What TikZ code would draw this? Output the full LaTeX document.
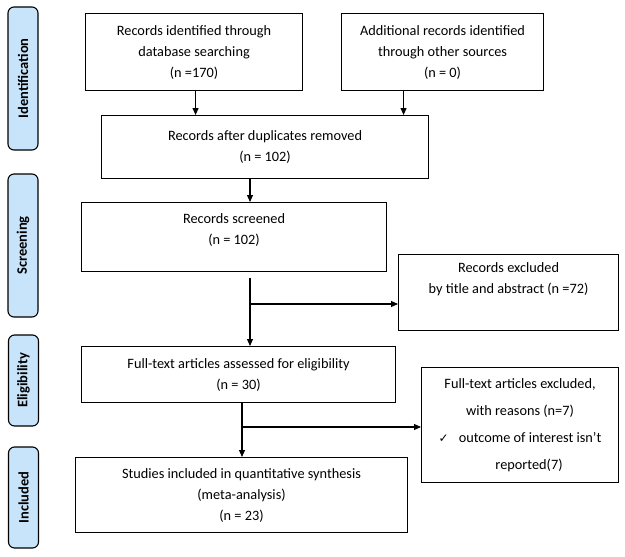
\documentclass[tikz,border=0pt]{standalone}
\usepackage{fontspec}
\setmainfont{Carlito}
\newfontfamily\checkfont{DejaVu Sans}
\usetikzlibrary{arrows.meta}

\definecolor{phaseblue}{RGB}{200,228,250}
\newcommand*\phasewidth{30}
\tikzset{stagebox/.style 2 args={
    draw,
    line width=1.1pt,
    rectangle,
    anchor=north west,
    inner sep=0pt,
    minimum width=#1pt,
    minimum height=#2pt,
    align=center,
    font=\fontsize{14.3}{21}\selectfont
}}
\tikzset{phase/.style={
    draw,
    line width=1.1pt,
    fill=phaseblue,
    rounded corners=6pt,
    rotate=90,
    inner sep=0pt,
    minimum width=#1pt,
    minimum height=\phasewidth pt,
    font=\fontsize{14.5}{16}\selectfont\bfseries
}}
\tikzset{flow/.style={line width=1.1pt,-{Triangle[length=7pt,width=6pt]}}}

\begin{document}
\begin{tikzpicture}[x=1pt,y=-1pt]
    \useasboundingbox (0,0) rectangle (625,557);

    % The phases down the left side.
    \node[phase=143] (ident) at (23,78.5) {Identification};
    \node[phase=143] (screen) at (23,245.5) {Screening};
    \node[phase=91] (elig) at (23.5,380.5) {Eligibility};
    \node[phase=101] (incl) at (23.5,497.5) {Included};

    % The boxes, at their top left corners.
    %\node[stagebox={WIDTH}{HEIGHT}] at (LEFT,TOP) {TEXT};
    \node[stagebox={217}{77}] (db) at (85,13) {Records identified through\\database searching\\(n =170)};
    \node[stagebox={202}{77}] (other) at (341,13) {Additional records identified\\through other sources\\(n = 0)};
    \node[stagebox={327}{63}] (dup) at (101,115) {Records after duplicates removed\\(n = 102)};
    \node[stagebox={305}{69}] (scr) at (81,202) {Records screened\\(n = 102)\\[-4pt]};
    \node[stagebox={220}{76}] (excl) at (398,254) {Records excluded\\by title and abstract (n =72)\\[9pt]};
    \node[stagebox={314}{56}] (full) at (81,346) {Full-text articles assessed for eligibility\\(n = 30)};
    \node[stagebox={197}{115},font=\fontsize{14.3}{27}\selectfont] (fullexcl) at (421,367)
        {Full-text articles excluded,\\with reasons (n=7)\\{\checkfont\fontsize{12}{12}\selectfont ✓}\hspace{10pt}outcome of interest isn’t\\\hspace{18pt}reported(7)};
    \node[stagebox={332}{75}] (incl6) at (75,457) {Studies included in quantitative synthesis\\(meta-analysis)\\(n = 23)};

    % The spine of the flow and its two branch points.
    \coordinate (spine) at (250,0);
    \coordinate (spinetwo) at (242,0);
    \coordinate (cutone) at (250,304);
    \coordinate (cuttwo) at (242,427);

    % Draw the arrows.
    \draw[flow] ([xshift=1.5pt]db.south) -- ([xshift=1.5pt]db.south |- dup.north);
    \draw[flow] ([xshift=-39pt]other.south) -- ([xshift=-39pt]other.south |- dup.north);
    \draw[flow] (dup.south -| spine) -- (scr.north -| spine);
    \draw[flow] ([yshift=-6pt]scr.south -| spine) -- (full.north -| spine);
    \draw[flow] (cutone) -- (cutone -| excl.west);
    \draw[flow] (full.south -| spinetwo) -- (incl6.north -| spinetwo);
    \draw[flow] (cuttwo) -- (cuttwo -| fullexcl.west);

\end{tikzpicture}
\end{document}
